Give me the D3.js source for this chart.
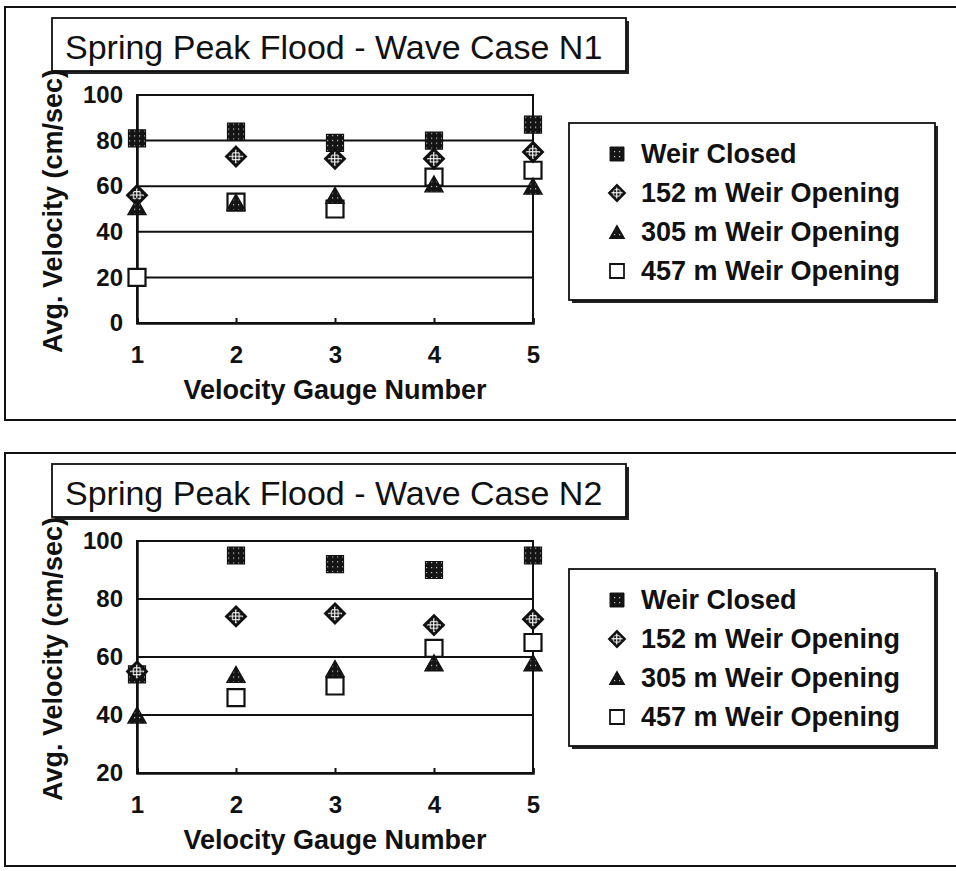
<!DOCTYPE html>
<html>
<head>
<meta charset="utf-8">
<script src="https://cdn.jsdelivr.net/npm/d3@7"></script>
<style>
  body { margin: 0; background: #fff; }
  svg { display: block; }
  text { font-family: "Liberation Sans", Arial, sans-serif; fill: #111; }
</style>
</head>
<body>
<script>
// gauges on the x axis
const gauges = [1, 2, 3, 4, 5];
const seriesNames = ['Weir Closed', '152 m Weir Opening', '305 m Weir Opening', '457 m Weir Opening'];
const seriesKeys = ['closed', 'w152', 'w305', 'w457'];

// Wave Case N1
const n1Closed = [81, 84, 79, 80, 87];
const n1W152 = [56, 73, 72, 72, 75];
const n1W305 = [51, 53, 56, 61, 60];
const n1W457 = [20, 53, 50, 64, 67];
const n1Ticks = [0, 20, 40, 60, 80, 100];

// Wave Case N2 (457 m point at gauge 1 not visible)
const n2Closed = [54, 95, 92, 90, 95];
const n2W152 = [55, 74, 75, 71, 73];
const n2W305 = [40, 54, 56, 58, 58];
const n2W457 = [null, 46, 50, 63, 65];
const n2Ticks = [20, 40, 60, 80, 100];

const titles = ['Spring Peak Flood - Wave Case N1', 'Spring Peak Flood - Wave Case N2'];
const yLabel = 'Avg. Velocity (cm/sec)';
const xLabel = 'Velocity Gauge Number';

const charts = [
    { title: titles[0], ticks: n1Ticks, series: [n1Closed, n1W152, n1W305, n1W457], oy: 0, plotBottom: 323 },
    { title: titles[1], ticks: n2Ticks, series: [n2Closed, n2W152, n2W305, n2W457], oy: 446, plotBottom: 327 }
];

const width = 956, height = 871;
const plotLeft = 137, plotRight = 533, plotTop = 95;

const svg = d3.select('body').append('svg')
    .attr('width', width)
    .attr('height', height);

// fill textures for the markers
const defs = svg.append('defs');
const dark = defs.append('pattern')
    .attr('id', 'darkDots')
    .attr('patternUnits', 'userSpaceOnUse')
    .attr('width', 5).attr('height', 5);
dark.append('rect').attr('width', 5).attr('height', 5).attr('fill', '#141414');
dark.append('rect').attr('x', 2).attr('y', 2).attr('width', 1.2).attr('height', 1.2).attr('fill', '#c8c8c8');

const light = defs.append('pattern')
    .attr('id', 'lightDots')
    .attr('patternUnits', 'userSpaceOnUse')
    .attr('width', 3.4).attr('height', 3.4);
light.append('rect').attr('width', 3.4).attr('height', 3.4).attr('fill', '#f4f4f4');
light.append('rect').attr('x', 0.3).attr('y', 0.3).attr('width', 2.3).attr('height', 2.3).attr('fill', '#111');

// marker paths centred on 0,0
function markerPath(key, s) {
    const h = s / 2;
    if (key === 'closed' || key === 'w457') {
        return `M${-h},${-h}H${h}V${h}H${-h}Z`;
    }
    if (key === 'w152') {
        const d = h * 1.1;
        return `M0,${-d}L${d},0L0,${d}L${-d},0Z`;
    }
    const t = h * 1.06;
    return `M0,${-t * 0.88}L${t},${t * 0.88}L${-t},${t * 0.88}Z`;
}

const markerStyle = {
    closed: { fill: 'url(#darkDots)', stroke: '#111', sw: 1.2 },
    w152: { fill: 'url(#lightDots)', stroke: '#111', sw: 3 },
    w305: { fill: 'url(#darkDots)', stroke: '#111', sw: 1.4 },
    w457: { fill: '#fff', stroke: '#111', sw: 2.2 }
};

// drawing order: open squares under the rest
const drawOrder = [3, 0, 1, 2];

function shadowBox(g, x, y, w, h) {
    g.append('rect')
        .attr('x', x + 3).attr('y', y + 3)
        .attr('width', w).attr('height', h)
        .attr('fill', '#222');
    g.append('rect')
        .attr('x', x).attr('y', y)
        .attr('width', w).attr('height', h)
        .attr('fill', '#fff')
        .attr('stroke', '#111')
        .attr('stroke-width', 1.8);
}

charts.forEach(c => {
    const g = svg.append('g').attr('transform', `translate(0,${c.oy})`);

    // outer frame
    g.append('rect')
        .attr('x', 5).attr('y', 7)
        .attr('width', 1000).attr('height', 413)
        .attr('fill', 'none')
        .attr('stroke', '#111')
        .attr('stroke-width', 2);

    const x = d3.scaleLinear().domain([1, 5]).range([plotLeft, plotRight]);
    const y = d3.scaleLinear()
        .domain([c.ticks[0], c.ticks[c.ticks.length - 1]])
        .range([c.plotBottom, plotTop]);

    // gridlines
    g.append('g')
        .selectAll('line')
        .data(c.ticks.slice(1))
        .join('line')
        .attr('x1', plotLeft).attr('x2', plotRight)
        .attr('y1', d => y(d)).attr('y2', d => y(d))
        .attr('stroke', '#111')
        .attr('stroke-width', 2);

    // plot frame
    g.append('rect')
        .attr('x', plotLeft).attr('y', plotTop)
        .attr('width', plotRight - plotLeft)
        .attr('height', c.plotBottom - plotTop)
        .attr('fill', 'none')
        .attr('stroke', '#111')
        .attr('stroke-width', 2);

    // y axis
    const yAxis = g.append('g')
        .attr('transform', `translate(${plotLeft},0)`)
        .call(d3.axisLeft(y).tickValues(c.ticks).tickSize(0).tickPadding(14));
    yAxis.select('.domain').attr('stroke', '#111').attr('stroke-width', 2.5);
    yAxis.selectAll('text')
        .attr('font-size', 24)
        .attr('font-weight', 'bold')
        .attr('fill', '#111')
        .style('font-family', '"Liberation Sans", Arial, sans-serif');

    // x axis
    const xAxis = g.append('g')
        .attr('transform', `translate(0,${c.plotBottom})`)
        .call(d3.axisBottom(x).tickValues(gauges).tickSize(-5).tickPadding(23).tickFormat(d3.format('d')));
    xAxis.select('.domain').attr('stroke', '#111').attr('stroke-width', 2.5);
    xAxis.selectAll('.tick line').attr('stroke', '#111').attr('stroke-width', 2);
    xAxis.selectAll('text')
        .attr('font-size', 24)
        .attr('font-weight', 'bold')
        .attr('fill', '#111')
        .style('font-family', '"Liberation Sans", Arial, sans-serif');

    // markers
    drawOrder.forEach(si => {
        const key = seriesKeys[si];
        const st = markerStyle[key];
        const pts = c.series[si]
            .map((v, i) => ({ gauge: gauges[i], v: v }))
            .filter(d => d.v != null);
        g.append('g')
            .selectAll('path')
            .data(pts)
            .join('path')
            .attr('transform', d => `translate(${x(d.gauge)},${y(d.v)})`)
            .attr('d', markerPath(key, 17))
            .attr('fill', st.fill)
            .attr('stroke', st.stroke)
            .attr('stroke-width', st.sw);
    });

    // title box
    shadowBox(g, 52, 18, 574, 53);
    g.append('text')
        .attr('x', 65)
        .attr('y', 59)
        .attr('font-size', 34)
        .text(c.title);

    // axis titles
    g.append('text')
        .attr('x', (plotLeft + plotRight) / 2)
        .attr('y', c.plotBottom + 76)
        .attr('text-anchor', 'middle')
        .attr('font-size', 27)
        .attr('font-weight', 'bold')
        .text(xLabel);

    g.append('text')
        .attr('transform', `translate(62,${(plotTop + c.plotBottom) / 2 + 2}) rotate(-90)`)
        .attr('text-anchor', 'middle')
        .attr('font-size', 27)
        .attr('font-weight', 'bold')
        .text(yLabel);

    // legend
    shadowBox(g, 569, 123, 366, 177);
    const leg = g.append('g')
        .selectAll('g')
        .data(seriesNames)
        .join('g')
        .attr('transform', (d, i) => `translate(617,${163 + i * 39})`);
    leg.append('path')
        .attr('transform', 'translate(0,-9)')
        .attr('d', (d, i) => markerPath(seriesKeys[i], 14))
        .attr('fill', (d, i) => markerStyle[seriesKeys[i]].fill)
        .attr('stroke', '#111')
        .attr('stroke-width', (d, i) => markerStyle[seriesKeys[i]].sw * 0.8);
    leg.append('text')
        .attr('x', 24)
        .attr('font-size', 27)
        .attr('font-weight', 'bold')
        .text(d => d);
});
</script>
</body>
</html>
